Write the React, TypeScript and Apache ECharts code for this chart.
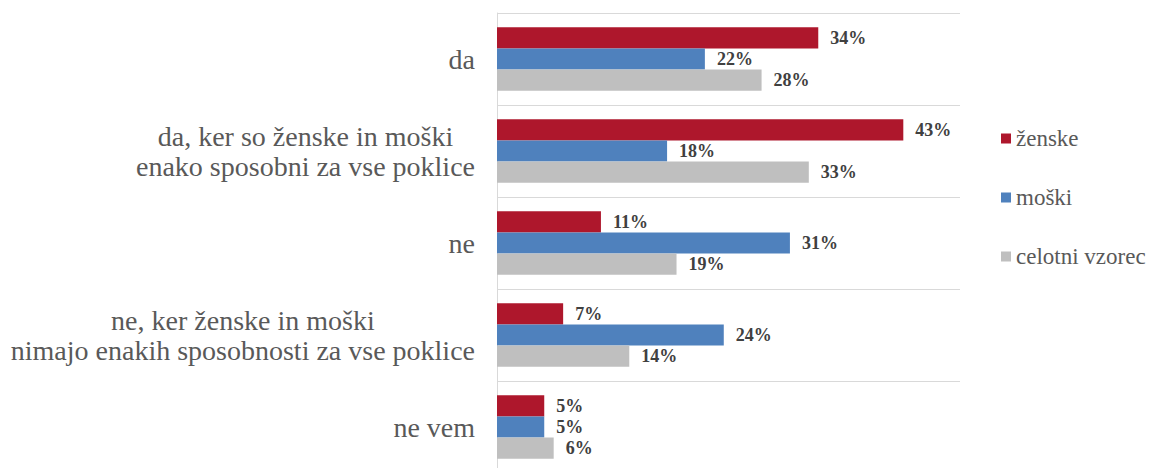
import React, { useEffect, useRef } from "react";
import * as echarts from "echarts";

const categories = [
  "da",
  "da, ker so ženske in moški\nenako sposobni za vse poklice",
  "ne",
  "ne, ker ženske in moški\nnimajo enakih sposobnosti za vse poklice",
  "ne vem",
];
const seriesNames = ["ženske", "moški", "celotni vzorec"];
const zenske = [34, 43, 11, 7, 5];
const moski = [22, 18, 31, 24, 5];
const celotni = [28, 33, 19, 14, 6];
const colors = ["#AE172C", "#4F81BD", "#BFBFBF"];

export default function App() {
  const ref = useRef<HTMLDivElement>(null);
  useEffect(() => {
    if (!ref.current) return;
    const chart = echarts.init(ref.current, null, { renderer: "svg" });
    const serif = "'Liberation Serif', 'Times New Roman', serif";
    const data = [zenske, moski, celotni];
    chart.setOption({
      animation: false,
      textStyle: { fontFamily: serif },
      legend: {
        orient: "vertical",
        left: 996,
        top: 122,
        itemWidth: 10,
        itemHeight: 10,
        itemGap: 36,
        icon: "rect",
        data: seriesNames,
        textStyle: { fontFamily: serif, fontSize: 23, color: "#595959" },
      },
      grid: { left: 497, right: 198, top: 13, bottom: 0 },
      xAxis: {
        type: "value",
        min: 0,
        max: 49,
        axisLabel: { show: false },
        splitLine: { show: false },
        axisLine: { show: false },
        axisTick: { show: false },
      },
      yAxis: {
        type: "category",
        inverse: true,
        data: categories,
        axisLine: { show: true, lineStyle: { color: "#D9D9D9", width: 1 } },
        axisTick: { show: false },
        splitLine: { show: true, lineStyle: { color: "#D9D9D9", width: 1 } },
        axisLabel: {
          margin: 22,
          fontFamily: serif,
          formatter: (v: string) =>
            v
              .split("\n")
              .map((l) => "{c|" + l + "}")
              .join("\n"),
          rich: {
            c: {
              fontFamily: serif,
              fontSize: 28,
              color: "#595959",
              align: "center",
              lineHeight: 30,
            },
          },
        },
      },
      series: seriesNames.map((name, i) => ({
        name,
        type: "bar",
        data: data[i],
        barGap: "0%",
        barCategoryGap: "31%",
        itemStyle: { color: colors[i] },
        label: {
          show: true,
          position: "right",
          distance: 12,
          formatter: "{c}%",
          fontFamily: serif,
          fontWeight: "bold",
          fontSize: 18,
          color: "#404040",
        },
      })),
    });
    return () => chart.dispose();
  }, []);
  return (
    <div
      ref={ref}
      style={{ position: "fixed", left: 0, top: 0, width: 1158, height: 473, background: "#fff" }}
    />
  );
}
